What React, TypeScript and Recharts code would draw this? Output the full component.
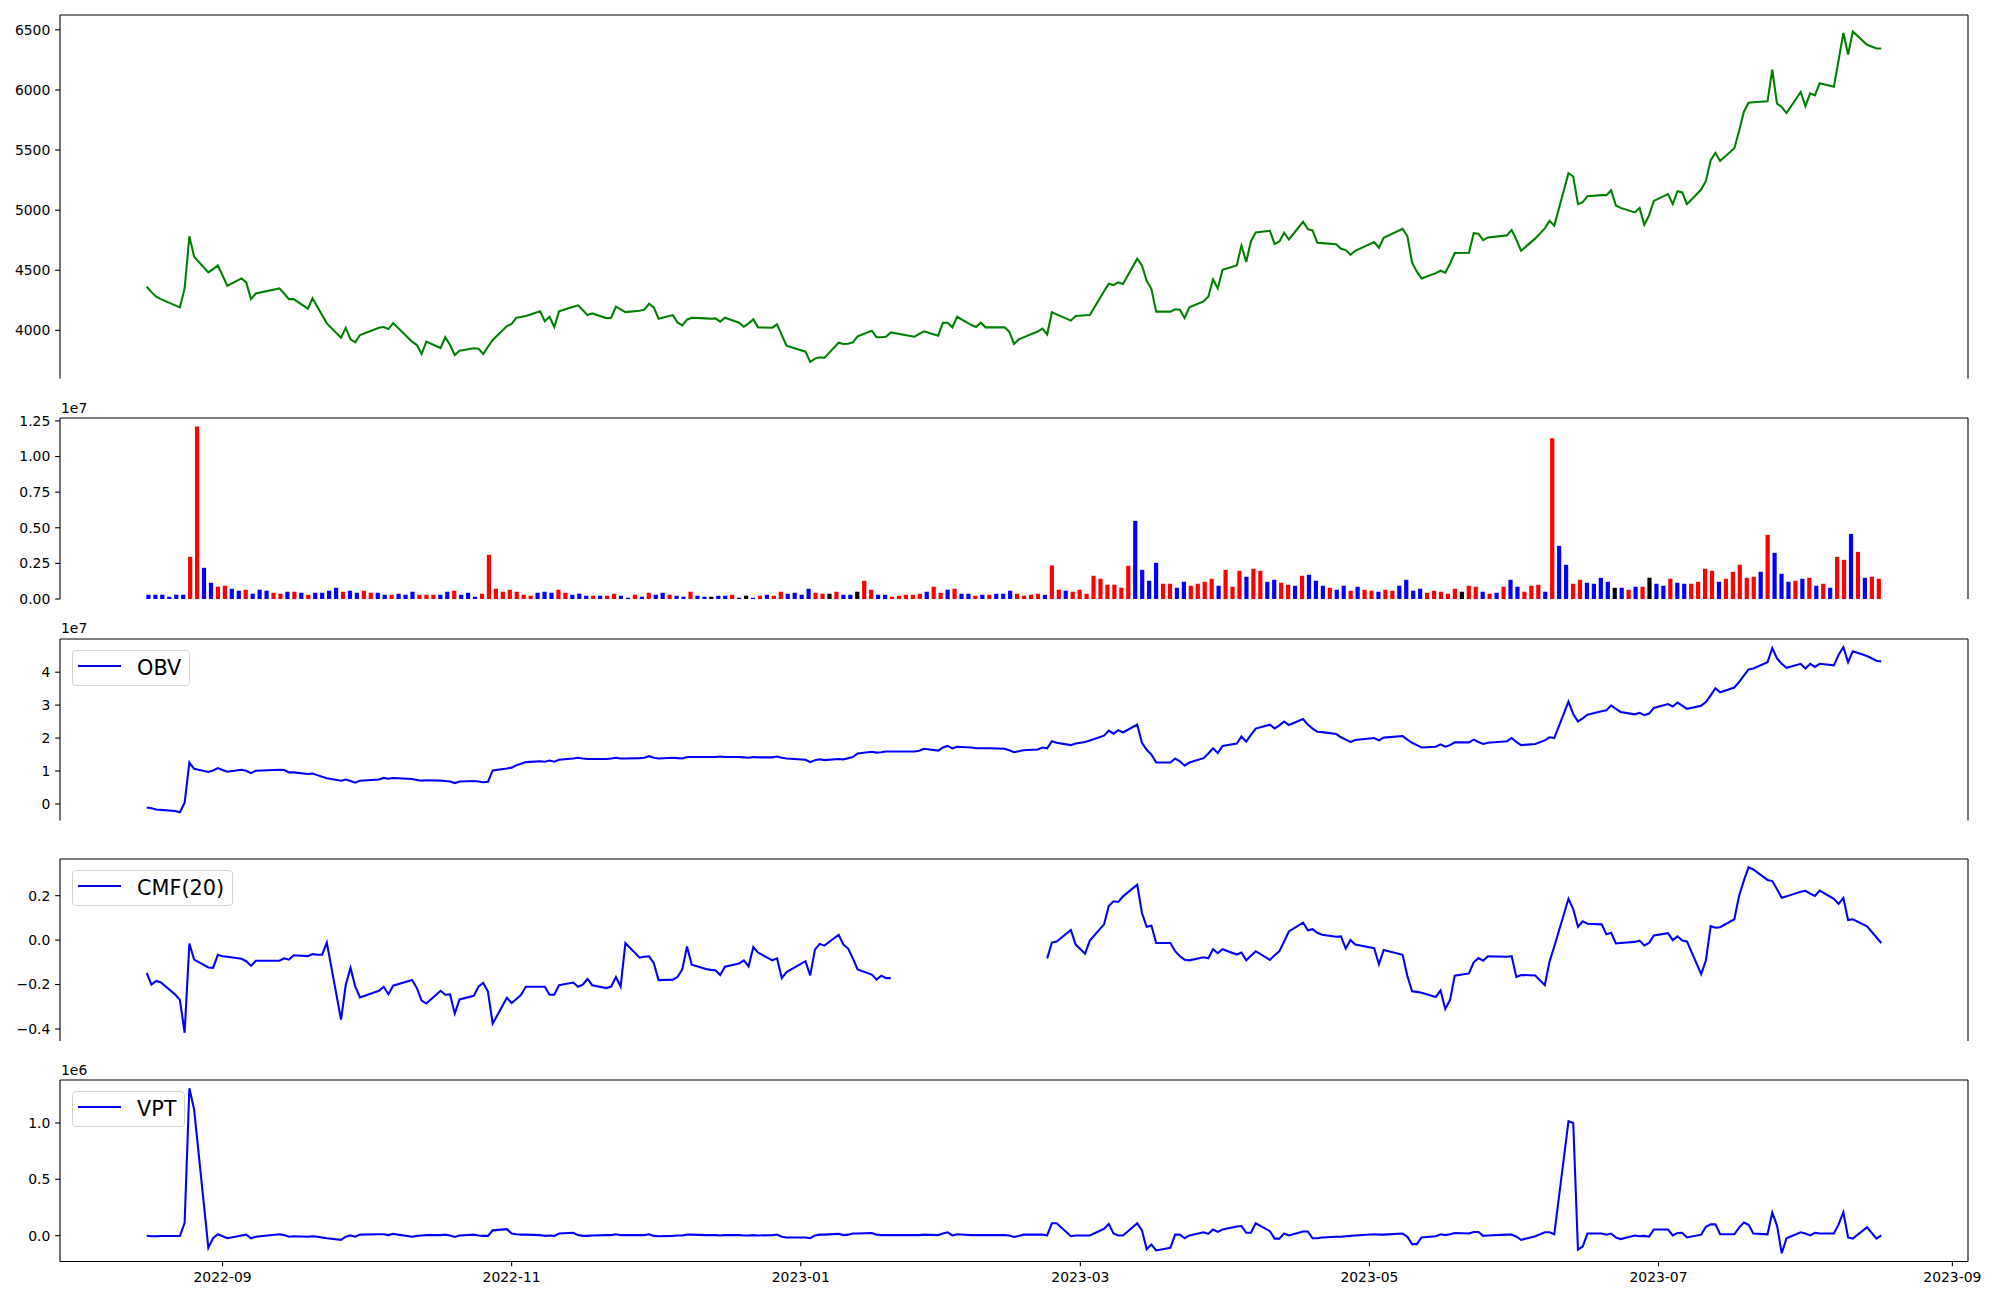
import React from 'react';
import { LineChart, Line, BarChart, Bar, Cell, XAxis, YAxis, ReferenceLine } from 'recharts';

// ---------------- DATA ----------------
// Trading days on the chart: [year, month, days]
const TRADING_DAYS: [number, number, number[]][] = [
  [2022, 8, [16, 17, 18, 19, 22, 23, 24, 25, 26, 29, 30, 31]],
  [2022, 9, [1, 2, 5, 6, 7, 8, 13, 14, 15, 16, 19, 20, 21, 22, 23, 26, 27, 28, 29, 30]],
  [2022, 10, [4, 5, 6, 7, 11, 12, 13, 14, 17, 18, 19, 20, 21, 24, 25, 26, 27, 28, 31]],
  [2022, 11, [1, 2, 3, 4, 7, 8, 9, 10, 11, 14, 15, 16, 17, 18, 21, 22, 23, 24, 25, 28, 29, 30]],
  [2022, 12, [1, 2, 5, 6, 7, 8, 9, 12, 13, 14, 15, 16, 19, 20, 21, 22, 23, 26, 27, 28, 29]],
  [2023, 1, [2, 3, 4, 5, 6, 9, 10, 11, 12, 13, 16, 17, 18, 19, 20, 25, 26, 27, 30, 31]],
  [2023, 2, [1, 2, 3, 6, 7, 8, 9, 10, 13, 14, 15, 16, 17, 20, 21, 22, 23, 24, 27, 28]],
  [2023, 3, [2, 3, 6, 7, 8, 9, 10, 13, 14, 15, 16, 17, 20, 21, 22, 23, 24, 27, 28, 29, 30, 31]],
  [2023, 4, [3, 4, 5, 6, 7, 10, 11, 12, 13, 14, 17, 18, 19, 20, 21, 24, 25, 26, 27, 28]],
  [2023, 5, [2, 3, 4, 8, 9, 10, 11, 12, 15, 16, 17, 18, 19, 22, 23, 24, 25, 26, 30, 31]],
  [2023, 6, [1, 2, 5, 7, 8, 9, 12, 13, 14, 15, 16, 19, 20, 21, 22, 23, 26, 27, 28, 29, 30]],
  [2023, 7, [3, 4, 5, 6, 7, 10, 11, 12, 13, 14, 17, 18, 19, 20, 21, 24, 25, 26, 27, 28, 31]],
  [2023, 8, [1, 2, 3, 4, 7, 8, 9, 10, 11, 14, 16, 17]],
];

// Close price
const PRICE = [
  4363, 4318, 4280, 4260, 4208, 4191, 4349, 4783, 4612, 4482,
  4509, 4540, 4457, 4371, 4432, 4399, 4260, 4307, 4349, 4307,
  4260, 4260, 4180, 4266, 4197, 4127, 4058, 3939, 4022, 3925,
  3900, 3961, 4022, 4028, 4011, 4061, 3906, 3878, 3803, 3906,
  3853, 3942, 3878, 3795, 3831, 3851, 3848, 3803, 3864, 3920,
  4036, 4053, 4105, 4111, 4119, 4158, 4075, 4113, 4028, 4158,
  4197, 4208, 4169, 4127, 4141, 4102, 4105, 4197, 4174, 4152,
  4163, 4172, 4221, 4191, 4097, 4127, 4066, 4042, 4089, 4105,
  4100, 4097, 4100, 4072, 4105, 4064, 4030, 4058, 4091, 4025,
  4022, 4050, 3961, 3873, 3823, 3737, 3765, 3776, 3770, 3898,
  3887, 3889, 3900, 3950, 3997, 3942, 3942, 3947, 3983, 3947,
  3970, 3992, 3956, 4064, 4064, 4025, 4113, 4044, 4028, 4064,
  4025, 4025, 4025, 3989, 3887, 3925, 3942, 3990, 4014, 3967,
  4150, 4133, 4081, 4119, 4125, 4128, 4325, 4388, 4377, 4399,
  4385, 4596, 4540, 4413, 4344, 4156, 4156, 4175, 4172, 4103,
  4192, 4241, 4280, 4424, 4349, 4504, 4540, 4706, 4568, 4742,
  4814, 4828, 4718, 4740, 4812, 4756, 4903, 4842, 4831, 4729,
  4726, 4717, 4679, 4668, 4629, 4662, 4734, 4687, 4770, 4845,
  4784, 4563, 4488, 4432, 4476, 4496, 4479, 4554, 4643, 4645,
  4809, 4803, 4751, 4773, 4790, 4834, 4756, 4662, 4765, 4848,
  4911, 4870, 5307, 5280, 5050, 5066, 5116, 5125, 5125, 5166,
  5039, 5019, 4981, 5019, 4878, 4956, 5077, 5133, 5050, 5158,
  5147, 5050, 5171, 5243, 5415, 5476, 5409, 5515, 5659, 5817,
  5894, 5897, 5905, 6168, 5886, 5858, 5808, 5983, 5866, 5972,
  5955, 6055, 6027, 6248, 6475, 6295, 6486, 6376, 6345, 6345,
];

// Volume, in millions
const VOLUME_M = [
  0.30, 0.30, 0.30, 0.16, 0.30, 0.30, 2.96, 12.10, 2.19, 1.14,
  0.86, 0.93, 0.72, 0.58, 0.65, 0.37, 0.65, 0.58, 0.44, 0.37,
  0.51, 0.51, 0.44, 0.30, 0.44, 0.44, 0.58, 0.79, 0.51, 0.58,
  0.44, 0.58, 0.44, 0.44, 0.30, 0.30, 0.37, 0.30, 0.51, 0.30,
  0.30, 0.30, 0.30, 0.51, 0.58, 0.30, 0.44, 0.16, 0.37, 3.10,
  0.72, 0.51, 0.65, 0.51, 0.30, 0.23, 0.44, 0.51, 0.44, 0.65,
  0.44, 0.30, 0.37, 0.23, 0.23, 0.23, 0.23, 0.37, 0.23, 0.09,
  0.30, 0.16, 0.44, 0.30, 0.44, 0.30, 0.23, 0.16, 0.51, 0.23,
  0.16, 0.16, 0.23, 0.23, 0.30, 0.09, 0.23, 0.09, 0.23, 0.30,
  0.23, 0.51, 0.37, 0.44, 0.30, 0.72, 0.44, 0.37, 0.37, 0.51,
  0.30, 0.30, 0.51, 1.28, 0.65, 0.30, 0.30, 0.16, 0.23, 0.30,
  0.30, 0.37, 0.51, 0.86, 0.44, 0.65, 0.72, 0.37, 0.37, 0.23,
  0.30, 0.30, 0.37, 0.37, 0.58, 0.37, 0.23, 0.30, 0.37, 0.30,
  2.36, 0.65, 0.58, 0.51, 0.65, 0.37, 1.63, 1.42, 1.00, 1.00,
  0.79, 2.33, 5.48, 2.05, 1.28, 2.54, 1.07, 1.07, 0.79, 1.21,
  0.93, 1.07, 1.21, 1.42, 0.93, 2.05, 0.86, 1.98, 1.56, 2.12,
  1.98, 1.21, 1.35, 1.14, 1.00, 0.93, 1.63, 1.70, 1.28, 0.93,
  0.79, 0.65, 0.93, 0.58, 0.86, 0.65, 0.58, 0.51, 0.65, 0.58,
  0.93, 1.35, 0.58, 0.72, 0.44, 0.58, 0.51, 0.37, 0.72, 0.51,
  0.93, 0.86, 0.51, 0.37, 0.44, 0.86, 1.35, 0.86, 0.51, 0.93,
  1.00, 0.51, 11.29, 3.73, 2.40, 1.07, 1.35, 1.14, 1.07, 1.49,
  1.21, 0.79, 0.79, 0.65, 0.86, 0.86, 1.49, 1.07, 0.93, 1.42,
  1.14, 1.07, 1.07, 1.21, 2.12, 1.98, 1.21, 1.42, 1.91, 2.40,
  1.49, 1.56, 1.91, 4.50, 3.24, 1.77, 1.21, 1.28, 1.42, 1.49,
  0.93, 1.07, 0.79, 2.96, 2.75, 4.57, 3.31, 1.49, 1.56, 1.42,
];

// Candle direction per day: r = up, b = down, k = unchanged
const CANDLE =
  'bbbbbbrrbb' + 'rrbbrbbbrr' + 'brbrbbbbrb' + 'brrbbrbbbr' + 'rrbbrbbbrr' +
  'rrrrrrbbbr' + 'rbbbrbrrbb' + 'rbrbbrbbrb' + 'bkbbrbkbrb' + 'rrbbbbrrkr' +
  'bbkrrbbrrr' + 'rrbrrbrbbr' + 'brbbbrrrrb' + 'rrbrrrrrrr' + 'rrbbbbrrbb' +
  'rrrrbrrrbr' + 'rbbrrbrbbb' + 'rbbrbrrbrr' + 'bbbbrrrrrk' + 'rrbrbrbbrr' +
  'rbrbbrrbbb' + 'bkbrbrkbbr' + 'bbrrrrbrrr' + 'rrbrbbbrbr' + 'brbrrbrbrr';

// On-balance volume, in units of 1e7
const OBV_E7 = [
  -0.108, -0.132, -0.168, -0.18, -0.216, -0.252, 0.036, 1.258, 1.066, 0.97,
  1.018, 1.09, 1.03, 0.98, 1.04, 1.006, 0.935, 1.006, 1.04, 1.03,
  0.958, 0.958, 0.91, 0.922, 0.875, 0.827, 0.779, 0.707, 0.743, 0.695,
  0.647, 0.707, 0.743, 0.79, 0.767, 0.79, 0.755, 0.73, 0.707, 0.719,
  0.707, 0.695, 0.683, 0.635, 0.683, 0.695, 0.683, 0.659, 0.671, 1.018,
  1.078, 1.102, 1.174, 1.222, 1.27, 1.294, 1.282, 1.318, 1.282, 1.342,
  1.378, 1.402, 1.378, 1.366, 1.366, 1.366, 1.378, 1.402, 1.378, 1.378,
  1.39, 1.402, 1.45, 1.402, 1.378, 1.402, 1.39, 1.378, 1.426, 1.426,
  1.426, 1.426, 1.426, 1.438, 1.426, 1.426, 1.414, 1.402, 1.426, 1.414,
  1.414, 1.438, 1.402, 1.378, 1.342, 1.27, 1.33, 1.354, 1.33, 1.366,
  1.354, 1.39, 1.426, 1.534, 1.582, 1.558, 1.57, 1.594, 1.594, 1.594,
  1.618, 1.677, 1.618, 1.713, 1.761, 1.689, 1.737, 1.713, 1.689, 1.689,
  1.689, 1.689, 1.677, 1.63, 1.57, 1.6, 1.63, 1.654, 1.713, 1.689,
  1.905, 1.857, 1.785, 1.833, 1.881, 1.929, 2.073, 2.229, 2.133, 2.241,
  2.169, 2.408, 1.857, 1.642, 1.498, 1.258, 1.258, 1.378, 1.294, 1.162,
  1.258, 1.39, 1.534, 1.689, 1.546, 1.761, 1.833, 2.049, 1.893, 2.097,
  2.289, 2.408, 2.289, 2.384, 2.504, 2.396, 2.576, 2.408, 2.289, 2.193,
  2.181, 2.121, 2.025, 1.953, 1.881, 1.941, 2.001, 1.929, 2.013, 2.061,
  1.953, 1.857, 1.785, 1.713, 1.737, 1.809, 1.737, 1.785, 1.869, 1.869,
  1.953, 1.881, 1.821, 1.857, 1.905, 2.001, 1.881, 1.785, 1.821, 1.929,
  2.025, 2.001, 3.103, 2.732, 2.504, 2.6, 2.708, 2.816, 2.84, 2.995,
  2.888, 2.792, 2.72, 2.768, 2.696, 2.744, 2.912, 3.031, 2.96, 3.079,
  2.983, 2.888, 2.983, 3.091, 3.295, 3.511, 3.391, 3.535, 3.702, 3.894,
  4.086, 4.11, 4.301, 4.733, 4.421, 4.254, 4.134, 4.254, 4.11, 4.254,
  4.158, 4.254, 4.206, 4.529, 4.757, 4.301, 4.637, 4.493, 4.349, 4.325,
];

// Chaikin money flow (20)
const CMF: (number | null)[] = [
  -0.148, -0.2, -0.184, -0.191, -0.245, -0.269, -0.417, -0.015, -0.088, -0.123,
  -0.125, -0.066, -0.073, -0.075, -0.084, -0.095, -0.116, -0.093, -0.093, -0.082,
  -0.088, -0.068, -0.072, -0.063, -0.066, -0.066, -0.011, -0.358, -0.201, -0.125,
  -0.209, -0.258, -0.228, -0.21, -0.244, -0.205, -0.18, -0.216, -0.272, -0.285,
  -0.228, -0.246, -0.244, -0.331, -0.267, -0.251, -0.21, -0.192, -0.232, -0.376,
  -0.26, -0.283, -0.265, -0.246, -0.21, -0.21, -0.21, -0.246, -0.246, -0.203,
  -0.191, -0.21, -0.201, -0.175, -0.203, -0.216, -0.209, -0.166, -0.209, -0.013,
  -0.079, -0.075, -0.073, -0.104, -0.18, -0.178, -0.166, -0.132, -0.029, -0.111,
  -0.13, -0.134, -0.136, -0.157, -0.12, -0.105, -0.091, -0.118, -0.031, -0.056,
  -0.091, -0.082, -0.171, -0.144, -0.095, -0.159, -0.043, -0.017, -0.025, 0.024,
  -0.02, -0.038, -0.082, -0.132, -0.155, -0.178, -0.16, -0.171, -0.171, null,
  null, null, null, null, null, null, null, null, null, null,
  null, null, null, null, null, null, null, null, null, -0.082,
  -0.011, -0.006, 0.046, -0.02, -0.061, -0.002, 0.071, 0.154, 0.175, 0.172,
  0.197, 0.25, 0.122, 0.06, 0.065, -0.013, -0.013, -0.05, -0.073, -0.088,
  -0.091, -0.077, -0.082, -0.041, -0.059, -0.041, -0.065, -0.056, -0.091, -0.07,
  -0.05, -0.089, -0.068, -0.05, -0.006, 0.039, 0.079, 0.044, 0.049, 0.033,
  0.024, 0.015, 0.017, -0.038, 0.001, -0.02, -0.036, -0.109, -0.045, -0.066,
  -0.162, -0.23, -0.233, -0.237, -0.256, -0.226, -0.31, -0.27, -0.16, -0.15,
  -0.1, -0.081, -0.093, -0.073, -0.075, -0.072, -0.166, -0.157, -0.159, -0.203,
  -0.097, -0.029, 0.186, 0.14, 0.06, 0.085, 0.074, 0.071, 0.026, 0.033,
  -0.015, -0.013, -0.008, -0.002, -0.024, -0.013, 0.021, 0.031, 0.0, 0.017,
  -0.002, -0.006, -0.153, -0.091, 0.063, 0.056, 0.058, 0.094, 0.2, 0.268,
  0.328, 0.318, 0.271, 0.266, 0.229, 0.191, 0.197, 0.218, 0.222, 0.209,
  0.199, 0.223, 0.186, 0.163, 0.19, 0.09, 0.094, 0.062, 0.012, -0.013,
];

// Volume price trend, in units of 1e6
const VPT_E6 = [
  0.0, -0.005, -0.005, -0.003, -0.003, -0.003, 0.114, 1.308, 1.12, -0.107,
  -0.023, 0.012, -0.005, -0.023, 0.002, 0.009, -0.023, -0.009, 0.012, 0.005,
  -0.009, -0.005, -0.009, -0.005, -0.009, -0.016, -0.023, -0.037, -0.009, 0.002,
  -0.009, 0.009, 0.012, 0.012, 0.005, 0.016, -0.009, -0.002, 0.002, 0.005,
  0.005, 0.009, 0.002, -0.012, 0.002, 0.009, 0.002, -0.002, -0.002, 0.047,
  0.058, 0.019, 0.012, 0.009, 0.009, 0.005, -0.002, 0.002, -0.002, 0.019,
  0.026, 0.005, -0.002, -0.002, 0.002, 0.005, 0.005, 0.012, 0.005, 0.005,
  0.005, 0.005, 0.012, -0.002, -0.005, -0.002, 0.002, 0.002, 0.009, 0.009,
  0.005, 0.005, 0.005, 0.002, 0.005, 0.005, 0.002, 0.002, 0.005, 0.002,
  0.005, 0.009, -0.009, -0.016, -0.016, -0.023, 0.002, 0.009, 0.009, 0.016,
  0.005, 0.009, 0.019, 0.019, 0.023, 0.009, 0.005, 0.005, 0.005, 0.005,
  0.005, 0.009, 0.005, 0.019, 0.03, 0.002, 0.012, 0.005, 0.005, 0.005,
  0.005, 0.005, 0.005, 0.002, -0.012, -0.002, 0.009, 0.009, 0.009, 0.002,
  0.11, 0.11, -0.005, 0.002, 0.002, 0.002, 0.061, 0.103, 0.019, 0.002,
  0.002, 0.11, 0.047, -0.121, -0.079, -0.131, -0.107, 0.009, 0.009, -0.023,
  0.002, 0.03, 0.016, 0.054, 0.033, 0.054, 0.082, 0.086, 0.026, 0.026,
  0.11, 0.04, -0.026, -0.026, 0.019, 0.002, 0.037, 0.037, -0.023, -0.023,
  -0.016, -0.009, -0.009, -0.005, -0.002, 0.002, 0.012, 0.009, 0.009, 0.019,
  -0.009, -0.075, -0.075, -0.016, -0.005, 0.012, 0.005, 0.012, 0.023, 0.019,
  0.033, 0.033, -0.002, 0.002, 0.009, 0.009, -0.009, -0.037, -0.005, 0.03,
  0.03, 0.012, 1.016, 0.999, -0.124, -0.096, 0.019, 0.019, 0.009, 0.019,
  -0.016, -0.03, 0.002, -0.005, -0.002, -0.009, 0.054, 0.054, 0.002, 0.023,
  0.026, -0.016, 0.009, 0.079, 0.1, 0.1, 0.012, 0.012, 0.072, 0.117,
  0.096, 0.019, 0.012, 0.205, 0.089, -0.156, -0.023, 0.03, 0.019, 0.002,
  0.026, 0.019, 0.019, 0.1, 0.208, -0.016, -0.026, 0.075, -0.026, 0.002,
];

// Tick labels / positions
const PRICE_TICKS = [4000, 4500, 5000, 5500, 6000, 6500];
const VOLUME_TICKS = [0, 2.5e6, 5e6, 7.5e6, 1e7, 1.25e7];
const OBV_TICKS = [0, 1e7, 2e7, 3e7, 4e7];
const CMF_TICKS = [-0.4, -0.2, 0, 0.2];
const VPT_TICKS = [0, 5e5, 1e6];
const DATE_TICKS: [number, number][] = [
  [2022, 9], [2022, 11], [2023, 1], [2023, 3], [2023, 5], [2023, 7], [2023, 9],
];

// ---------------- BUILD ROWS ----------------
const DATES = TRADING_DAYS.flatMap(([y, m, days]) => days.map((d) => Date.UTC(y, m - 1, d)));
const N = DATES.length;

const lineRows = DATES.map((t, i) => ({
  t,
  price: PRICE[i],
  obv: OBV_E7[i] * 1e7,
  cmf: CMF[i],
  vpt: VPT_E6[i] * 1e6,
}));

const COLOR_OF: Record<string, string> = { r: '#ff0000', b: '#0000ff', k: '#000000' };
const volRows = VOLUME_M.map((v, i) => ({ i, vol: v * 1e6, dir: CANDLE[i] }));

function padded(vals: number[], frac = 0.05): [number, number] {
  const lo = Math.min(...vals);
  const hi = Math.max(...vals);
  const r = hi - lo;
  return [lo - frac * r, hi + frac * r];
}

const X_DOMAIN = padded([DATES[0], DATES[N - 1]]);
const BAR_W = 0.6;
const VOL_X_DOMAIN = padded([-BAR_W / 2, N - 1 + BAR_W / 2]);
const PRICE_DOMAIN = padded(PRICE);
const VOL_DOMAIN: [number, number] = [0, Math.max(...volRows.map((r) => r.vol)) * 1.05];
const OBV_DOMAIN = padded(lineRows.map((r) => r.obv));
const CMF_DOMAIN = padded(CMF.filter((v): v is number => v !== null));
const VPT_DOMAIN = padded(lineRows.map((r) => r.vpt));
const X_TICKS = DATE_TICKS.map(([y, m]) => Date.UTC(y, m - 1, 1));

// ---------------- LAYOUT / STYLE ----------------
const W = 2000;
const PAD = 12;
const MARGIN = { top: PAD, right: 32, bottom: PAD, left: 0 };
const FONT = 'DejaVu Sans, sans-serif';
const TICK = { fill: '#000', fontSize: 13.9, fontFamily: FONT };
const AXIS_LINE = { stroke: '#000', strokeWidth: 1.1 };
const TICK_LINE = { stroke: '#000', strokeWidth: 1.1 };

const P_PRICE = [15.3, 378.8];
const P_VOL = [418.3, 599.3];
const P_OBV = [638.5, 820];
const P_CMF = [859, 1041];
const P_VPT = [1079.5, 1261];
const X_AXIS_H = 30;

const minus = (s: string) => s.replace('-', '\u2212');
const fmtDate = (t: number) => {
  const d = new Date(t);
  return `${d.getUTCFullYear()}-${String(d.getUTCMonth() + 1).padStart(2, '0')}`;
};

function OffsetText({ top, text }: { top: number; text: string }) {
  return (
    <div
      style={{
        position: 'absolute', left: 61, top, fontSize: 13.9, lineHeight: '13.9px',
        fontFamily: FONT, color: '#000', whiteSpace: 'nowrap',
      }}
    >
      {text}
    </div>
  );
}

function LegendBox({ top, width, label }: { top: number; width: number; label: string }) {
  return (
    <div
      style={{
        position: 'absolute', left: 71.7, top, width, height: 36, boxSizing: 'border-box',
        border: '1.3px solid #d4d4d4', borderRadius: 4, background: 'rgba(255,255,255,0.8)',
      }}
    >
      <div
        style={{
          position: 'absolute', left: 5.3, top: 14.3, width: 43.4, height: 2.08, background: '#0000ff',
        }}
      />
      <div
        style={{
          position: 'absolute', left: 64.3, top: -1, height: 36, lineHeight: '36px',
          fontSize: 20.83, fontFamily: FONT, color: '#000', whiteSpace: 'nowrap',
        }}
      >
        {label}
      </div>
    </div>
  );
}

const FRAME = { stroke: '#000', strokeWidth: 1.1 };

export default function App() {
  const hPrice = P_PRICE[1] - P_PRICE[0] + 2 * PAD;
  const hVol = P_VOL[1] - P_VOL[0] + 2 * PAD;
  const hObv = P_OBV[1] - P_OBV[0] + 2 * PAD;
  const hCmf = P_CMF[1] - P_CMF[0] + 2 * PAD;
  const hVpt = P_VPT[1] - P_VPT[0] + 2 * PAD + X_AXIS_H;

  return (
    <div style={{ position: 'absolute', left: 0, top: 0, width: 2000, height: 1300, background: '#fff' }}>
      {/* Price */}
      <div style={{ position: 'absolute', left: 0, top: P_PRICE[0] - PAD }}>
        <LineChart width={W} height={hPrice} data={lineRows} margin={MARGIN}>
          <XAxis dataKey="t" type="number" domain={X_DOMAIN} allowDataOverflow tick={false} tickLine={false} axisLine={AXIS_LINE} height={0} />
          <YAxis type="number" domain={PRICE_DOMAIN} allowDataOverflow ticks={PRICE_TICKS} interval={0} tickFormatter={(v: number) => String(v)} width={60} tick={TICK} tickLine={TICK_LINE} tickSize={4.86} tickMargin={4.86} axisLine={AXIS_LINE} />
          <ReferenceLine y={PRICE_DOMAIN[1]} {...FRAME} ifOverflow="visible" />
          <ReferenceLine x={X_DOMAIN[1]} {...FRAME} ifOverflow="visible" />
          <Line dataKey="price" type="linear" stroke="#008000" strokeWidth={2.08} dot={false} activeDot={false} isAnimationActive={false} />
        </LineChart>
      </div>

      {/* Volume */}
      <OffsetText top={401.5} text="1e7" />
      <div style={{ position: 'absolute', left: 0, top: P_VOL[0] - PAD }}>
        <BarChart width={W} height={hVol} data={volRows} margin={MARGIN}>
          <XAxis dataKey="i" type="number" domain={VOL_X_DOMAIN} allowDataOverflow tick={false} tickLine={false} axisLine={AXIS_LINE} height={0} />
          <YAxis type="number" domain={VOL_DOMAIN} allowDataOverflow ticks={VOLUME_TICKS} interval={0} tickFormatter={(v: number) => (v / 1e7).toFixed(2)} width={60} tick={TICK} tickLine={TICK_LINE} tickSize={4.86} tickMargin={4.86} axisLine={AXIS_LINE} />
          <ReferenceLine y={VOL_DOMAIN[1]} {...FRAME} ifOverflow="visible" />
          <ReferenceLine x={VOL_X_DOMAIN[1]} {...FRAME} ifOverflow="visible" />
          <Bar dataKey="vol" barSize={4.2} isAnimationActive={false}>
            {volRows.map((r) => (
              <Cell key={r.i} fill={COLOR_OF[r.dir]} />
            ))}
          </Bar>
        </BarChart>
      </div>

      {/* OBV */}
      <OffsetText top={622.2} text="1e7" />
      <div style={{ position: 'absolute', left: 0, top: P_OBV[0] - PAD }}>
        <LineChart width={W} height={hObv} data={lineRows} margin={MARGIN}>
          <XAxis dataKey="t" type="number" domain={X_DOMAIN} allowDataOverflow tick={false} tickLine={false} axisLine={AXIS_LINE} height={0} />
          <YAxis type="number" domain={OBV_DOMAIN} allowDataOverflow ticks={OBV_TICKS} interval={0} tickFormatter={(v: number) => String(Math.round(v / 1e7))} width={60} tick={TICK} tickLine={TICK_LINE} tickSize={4.86} tickMargin={4.86} axisLine={AXIS_LINE} />
          <ReferenceLine y={OBV_DOMAIN[1]} {...FRAME} ifOverflow="visible" />
          <ReferenceLine x={X_DOMAIN[1]} {...FRAME} ifOverflow="visible" />
          <Line dataKey="obv" type="linear" stroke="#0000ff" strokeWidth={2.08} dot={false} activeDot={false} isAnimationActive={false} />
        </LineChart>
      </div>
      <LegendBox top={649.5} width={118.3} label="OBV" />

      {/* CMF */}
      <div style={{ position: 'absolute', left: 0, top: P_CMF[0] - PAD }}>
        <LineChart width={W} height={hCmf} data={lineRows} margin={MARGIN}>
          <XAxis dataKey="t" type="number" domain={X_DOMAIN} allowDataOverflow tick={false} tickLine={false} axisLine={AXIS_LINE} height={0} />
          <YAxis type="number" domain={CMF_DOMAIN} allowDataOverflow ticks={CMF_TICKS} interval={0} tickFormatter={(v: number) => minus(v.toFixed(1))} width={60} tick={TICK} tickLine={TICK_LINE} tickSize={4.86} tickMargin={4.86} axisLine={AXIS_LINE} />
          <ReferenceLine y={CMF_DOMAIN[1]} {...FRAME} ifOverflow="visible" />
          <ReferenceLine x={X_DOMAIN[1]} {...FRAME} ifOverflow="visible" />
          <Line dataKey="cmf" type="linear" stroke="#0000ff" strokeWidth={2.08} dot={false} activeDot={false} connectNulls={false} isAnimationActive={false} />
        </LineChart>
      </div>
      <LegendBox top={869.5} width={161.6} label="CMF(20)" />

      {/* VPT */}
      <OffsetText top={1063.5} text="1e6" />
      <div style={{ position: 'absolute', left: 0, top: P_VPT[0] - PAD }}>
        <LineChart width={W} height={hVpt} data={lineRows} margin={MARGIN}>
          <XAxis dataKey="t" type="number" domain={X_DOMAIN} allowDataOverflow ticks={X_TICKS} interval={0} tickFormatter={fmtDate} tick={TICK} tickLine={TICK_LINE} tickSize={4.86} tickMargin={6} axisLine={AXIS_LINE} height={X_AXIS_H} />
          <YAxis type="number" domain={VPT_DOMAIN} allowDataOverflow ticks={VPT_TICKS} interval={0} tickFormatter={(v: number) => (v / 1e6).toFixed(1)} width={60} tick={TICK} tickLine={TICK_LINE} tickSize={4.86} tickMargin={4.86} axisLine={AXIS_LINE} />
          <ReferenceLine y={VPT_DOMAIN[1]} {...FRAME} ifOverflow="visible" />
          <ReferenceLine x={X_DOMAIN[1]} {...FRAME} ifOverflow="visible" />
          <Line dataKey="vpt" type="linear" stroke="#0000ff" strokeWidth={2.08} dot={false} activeDot={false} isAnimationActive={false} />
        </LineChart>
      </div>
      <LegendBox top={1090.5} width={113.6} label="VPT" />
    </div>
  );
}
